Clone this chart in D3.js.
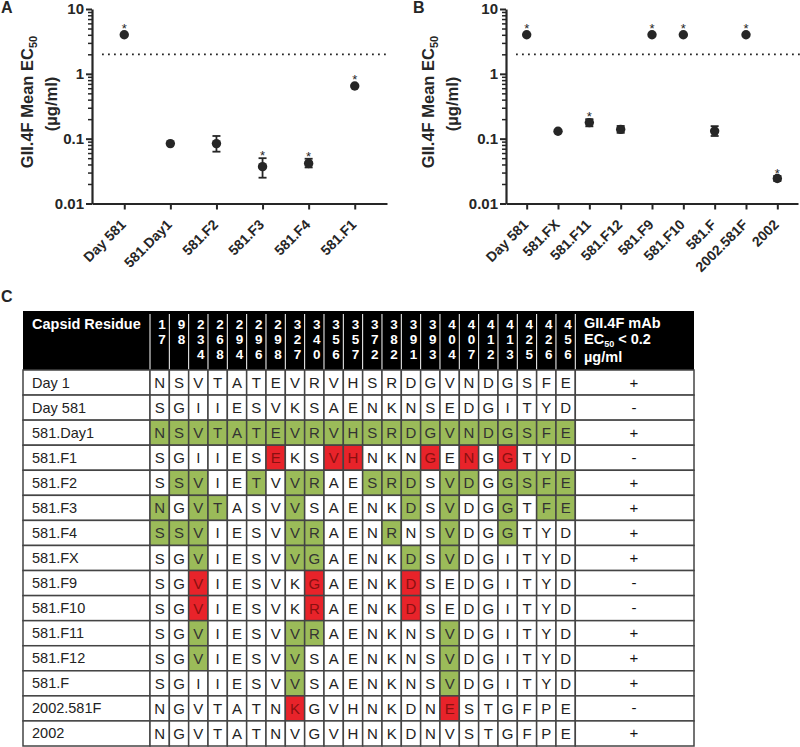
<!DOCTYPE html>
<html><head><meta charset="utf-8">
<script src="https://cdn.jsdelivr.net/npm/d3@7"></script>
<style>
body{margin:0;background:#fff}
svg{display:block}
svg text{font-family:"Liberation Sans",Arimo,Arial,Helvetica,sans-serif}
</style>
</head><body>
<svg id="c" width="800" height="747"></svg>
<script>
// ---------- Panel A data ----------
const catsA  = ["Day 581","581.Day1","581.F2","581.F3","581.F4","581.F1"];
const meanA  = [4.0, 0.084, 0.084, 0.037, 0.0415, 0.65];
const loA    = [null, null, 0.063, 0.025, 0.036, null];
const hiA    = [null, null, 0.11, 0.05, 0.049, null];
const starA  = [true, false, false, true, true, true];

// ---------- Panel B data ----------
const catsB  = ["Day 581","581.FX","581.F11","581.F12","581.F9","581.F10","581.F","2002.581F","2002"];
const meanB  = [4.0, 0.13, 0.177, 0.139, 4.0, 4.0, 0.131, 4.0, 0.0243];
const loB    = [null, null, 0.155, 0.123, null, null, 0.11, null, 0.0222];
const hiB    = [null, null, 0.2, 0.157, null, null, 0.156, null, 0.0266];
const starB  = [true, false, true, false, true, true, false, true, true];

const yTickVals   = [10, 1, 0.1, 0.01];
const yTickLabels = ["10", "1", "0.1", "0.01"];
const cutoff = 2;

// ---------- Panel C data ----------
const residues = ["17","98","234","268","294","296","298","327","340","356","357","372","382","391","393","404","407","412","413","425","426","456"];
const rowNames = ["Day 1","Day 581","581.Day1","581.F1","581.F2","581.F3","581.F4","581.FX","581.F9","581.F10","581.F11","581.F12","581.F","2002.581F","2002"];
const seqs = [
  "NSVTATEVRVHSRDGVNDGSFE",
  "SGIIESVKSAENKNSEDGITYD",
  "NSVTATEVRVHSRDGVNDGSFE",
  "SGIIESEKSVHNKNGENGGTYD",
  "SSVIETVVRAESRDSVDGGSFE",
  "NGVTASVVSAENKDSVDGGTFE",
  "SSVIESVVRAENRNSVDGGTYD",
  "SGVIESVVGAENKDSVDGITYD",
  "SGVIESVKGAENKDSEDGITYD",
  "SGVIESVKRAENKDSEDGITYD",
  "SGVIESVVRAENKNSVDGITYD",
  "SGVIESVVSAENKNSVDGITYD",
  "SGIIESVVSAENKNSVDGITYD",
  "NGVTATNKGVHNKDNESTGFPE",
  "NGVTATNVGVHNKDNVSTGFPE"
];
// g = green (restores binding), r = red (ablates binding), . = none
const marks = [
  "......................",
  "......................",
  "gggggggggggggggggggggg",
  "......r..rr...r.r.r...",
  ".gg..g.gg..ggg.gg.gggg",
  "g.gg...g.....g.g..g.gg",
  "ggg....gg...g..g..g...",
  "..g....gg....g.g......",
  "..r.....r....r........",
  "..r.....r....r........",
  "..g....gg......g......",
  "..g....g.......g......",
  ".......g.......g......",
  ".......r.......r......",
  "......................"
];
const results = ["+","-","+","-","+","+","+","+","-","-","+","+","+","-","+"];

// ---------- drawing ----------
const svg = d3.select("#c");
const ink = "#262626";
const FONT = "Liberation Sans, Arimo, Arial, sans-serif";
const yTop = 9, yBot = 203.5;

function panel(o){
  const y = d3.scaleLog().domain([0.01, 10]).range([yBot, yTop]);
  const x = d3.scalePoint().domain(o.cats).range([o.x0, o.x1]).padding(o.pad);
  const g = svg.append("g");

  // minor ticks
  const minor = [];
  [0.01, 0.1, 1].forEach(d => { for (let k = 2; k <= 9; k++) minor.push(d * k); });
  const gm = g.append("g").attr("transform", `translate(${o.x0},0)`)
    .call(d3.axisLeft(y).tickValues(minor).tickSize(4).tickSizeOuter(0).tickFormat(""));
  gm.select(".domain").remove();
  gm.selectAll("line").attr("stroke", ink).attr("stroke-width", 1.5);

  const ga = g.append("g").attr("transform", `translate(${o.x0},0)`)
    .call(d3.axisLeft(y).tickValues(yTickVals).tickSize(6).tickSizeOuter(0)
      .tickFormat((d, i) => yTickLabels[i]));
  ga.select(".domain").attr("stroke", ink).attr("stroke-width", 2.2);
  ga.selectAll("line").attr("stroke", ink).attr("stroke-width", 2);
  ga.selectAll("text").attr("fill", ink).attr("font-size", 15).attr("font-weight", "bold")
    .attr("font-family", FONT).attr("x", -8);

  const gx = g.append("g").attr("transform", `translate(0,${yBot})`)
    .call(d3.axisBottom(x).tickSize(6).tickSizeOuter(0));
  gx.select(".domain").attr("stroke", ink).attr("stroke-width", 2.2);
  gx.selectAll("line").attr("stroke", ink).attr("stroke-width", 2);
  gx.selectAll("text").attr("fill", ink).attr("font-size", 14).attr("font-weight", "bold")
    .attr("font-family", FONT)
    .attr("x", 0).attr("y", 0).attr("dy", 0).attr("text-anchor", "end")
    .attr("transform", "translate(2,22) rotate(-45)");

  // cutoff dotted line
  g.append("line").attr("x1", o.x0 + 10).attr("x2", o.x1 + 2)
    .attr("y1", y(cutoff)).attr("y2", y(cutoff))
    .attr("stroke", ink).attr("stroke-width", 1.8).attr("stroke-dasharray", "1.8,4.2");

  // error bars
  o.cats.forEach((c, i) => {
    if (o.lo[i] == null) return;
    const cx = x(c);
    g.append("line").attr("x1", cx).attr("x2", cx).attr("y1", y(o.hi[i])).attr("y2", y(o.lo[i]))
      .attr("stroke", ink).attr("stroke-width", 1.8);
    [o.hi[i], o.lo[i]].forEach(v => g.append("line").attr("x1", cx - 4).attr("x2", cx + 4)
      .attr("y1", y(v)).attr("y2", y(v)).attr("stroke", ink).attr("stroke-width", 1.8));
  });
  // points
  g.selectAll("circle.pt").data(o.cats).enter().append("circle")
    .attr("cx", d => x(d)).attr("cy", (d, i) => y(o.mean[i])).attr("r", 4.7).attr("fill", ink);
  // stars
  o.cats.forEach((c, i) => {
    if (!o.star[i]) return;
    const top = o.hi[i] != null ? y(o.hi[i]) : y(o.mean[i]) - 4;
    g.append("text").attr("x", x(c)).attr("y", top + 2).attr("text-anchor", "middle")
      .attr("font-size", 13).attr("fill", ink).text("*");
  });

  // y title
  const t = g.append("text").attr("transform", `translate(${o.tx},102) rotate(-90)`)
    .attr("text-anchor", "middle").attr("font-size", 16.5).attr("font-weight", "bold").attr("fill", ink);
  t.append("tspan").text("GII.4F Mean EC");
  t.append("tspan").attr("font-size", 11).attr("dy", 4).text("50");
  g.append("text").attr("transform", `translate(${o.tx + 24},104) rotate(-90)`)
    .attr("text-anchor", "middle").attr("font-size", 16.5).attr("font-weight", "bold").attr("fill", ink)
    .text("(\u00b5g/ml)");

  // panel letter
  svg.append("text").attr("x", o.lx).attr("y", 13).attr("font-size", 16).attr("font-weight", "bold")
    .attr("fill", ink).text(o.letter);
}

panel({cats: catsA, mean: meanA, lo: loA, hi: hiA, star: starA, x0: 92, x1: 387, pad: 0.7, tx: 33, lx: 1, letter: "A"});
panel({cats: catsB, mean: meanB, lo: loB, hi: hiB, star: starB, x0: 506, x1: 798, pad: 0.66, tx: 434, lx: 413, letter: "B"});

// ---------- Panel C ----------
svg.append("text").attr("x", 1).attr("y", 302).attr("font-size", 16).attr("font-weight", "bold")
  .attr("fill", ink).text("C");

const tX0 = 23, nameX1 = 150, resX1 = 575.3, tX1 = 694, hY0 = 311, bY0 = 370, bY1 = 746;
const cx = d3.scaleBand().domain(residues).range([nameX1, resX1]);
const ry = d3.scaleBand().domain(rowNames).range([bY0, bY1]);
const gT = svg.append("g");
const green = "#9bbb59", red = "#e8232a", gridC = "#444";

// header
gT.append("rect").attr("x", tX0).attr("y", hY0).attr("width", tX1 - tX0).attr("height", bY0 - hY0).attr("fill", "#000");
gT.append("text").attr("x", 32).attr("y", 329).attr("fill", "#fff").attr("font-size", 14.5)
  .attr("font-weight", "bold").text("Capsid Residue");
const bounds = residues.map(r => cx(r)).concat([resX1]);
bounds.forEach(b => gT.append("line").attr("x1", b).attr("x2", b).attr("y1", hY0 + 3).attr("y2", bY0)
  .attr("stroke", "#fff").attr("stroke-width", 1));
residues.forEach(r => {
  r.split("").forEach((ch, k) => gT.append("text").attr("x", cx(r) + cx.bandwidth() - 3.5)
    .attr("y", 328.5 + k * 15).attr("text-anchor", "end").attr("fill", "#fff")
    .attr("font-size", 13.5).attr("font-weight", "bold").text(ch));
});
const lastHead = gT.append("g").attr("fill", "#fff").attr("font-size", 14.5).attr("font-weight", "bold");
lastHead.append("text").attr("x", 584).attr("y", 328).text("GII.4F mAb");
const ec = lastHead.append("text").attr("x", 584).attr("y", 344);
ec.append("tspan").text("EC");
ec.append("tspan").attr("font-size", 9).attr("dy", 2.5).text("50");
ec.append("tspan").attr("dy", -2.5).text(" < 0.2");
lastHead.append("text").attr("x", 584).attr("y", 362).text("\u00b5g/ml");

// body
rowNames.forEach((name, i) => {
  const top = ry(name), h = ry.bandwidth();
  gT.append("rect").attr("x", tX0).attr("y", top).attr("width", nameX1 - tX0).attr("height", h)
    .attr("fill", "#fff").attr("stroke", gridC).attr("stroke-width", 1.5);
  gT.append("text").attr("x", 32).attr("y", top + h / 2 + 5).attr("font-size", 14.5).attr("fill", "#222").text(name);
  seqs[i].split("").forEach((ch, j) => {
    const m = marks[i][j];
    const fill = m === "g" ? green : m === "r" ? red : "#fff";
    const col = m === "r" ? "#8a1010" : m === "g" ? "#333" : "#222";
    gT.append("rect").attr("x", cx(residues[j])).attr("y", top).attr("width", cx.bandwidth()).attr("height", h)
      .attr("fill", fill).attr("stroke", gridC).attr("stroke-width", 1.5);
    gT.append("text").attr("x", cx(residues[j]) + cx.bandwidth() / 2).attr("y", top + h / 2 + 5.5)
      .attr("text-anchor", "middle").attr("font-size", 15).attr("fill", col).text(ch);
  });
  gT.append("rect").attr("x", resX1).attr("y", top).attr("width", tX1 - resX1).attr("height", h)
    .attr("fill", "#fff").attr("stroke", gridC).attr("stroke-width", 1.5);
  gT.append("text").attr("x", 634).attr("y", top + h / 2 + 5).attr("text-anchor", "middle")
    .attr("font-size", 15).attr("fill", "#111").text(results[i]);
});
</script>
</body></html>
